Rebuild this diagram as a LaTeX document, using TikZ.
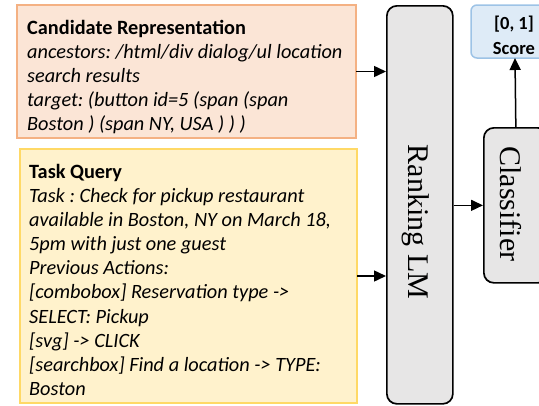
\documentclass[tikz,border=0pt]{standalone}
\usepackage{fontspec}
\setmainfont{Carlito}
\newfontfamily\serifface{Liberation Serif}
\usetikzlibrary{arrows.meta}
\frenchspacing
\definecolor{candfill}{HTML}{FBE5D6}
\definecolor{canddraw}{HTML}{F4B183}
\definecolor{taskfill}{HTML}{FFF2CC}
\definecolor{taskdraw}{HTML}{FFD966}
\definecolor{modelfill}{HTML}{E7E6E6}
\definecolor{scorefill}{HTML}{DEEBF7}
\definecolor{scoredraw}{HTML}{9DC3E6}
\tikzset{
  inbox/.style={anchor=north west, inner sep=0pt, outer sep=0pt},
  bodytext/.style={inner sep=0pt, anchor=north west, align=left,
    font=\fontsize{20.3}{24.1}\selectfont\itshape},
  model/.style={draw=black, line width=1.7pt, fill=modelfill, rounded corners=10pt,
    anchor=north west, inner sep=0pt},
  modeltext/.style={font=\serifface\fontsize{30}{30}\selectfont, rotate=-90, inner sep=0pt},
  arr/.style={line width=1.5pt, -{Triangle[length=12pt,width=11pt]}},
}
\begin{document}
\begin{tikzpicture}[x=1pt,y=-1pt]
\useasboundingbox (0,0) rectangle (539,405);
\clip (0,0) rectangle (539,405);
% input boxes
\node[inbox, draw=canddraw, line width=2pt, fill=candfill,
  minimum width=339pt, minimum height=133pt] (cand) at (17,5) {};
\node[inbox, draw=taskdraw, line width=2pt, fill=taskfill,
  minimum width=337pt, minimum height=254pt] (task) at (20,149) {};
\node[bodytext] (candtext) at (27,20) {%
  {\bfseries\upshape Candidate Representation}\\
  ancestors: /html/div dialog/ul location\\
  search results\\
  target: (button id=5 (span (span\\
  Boston ) (span NY, USA ) ) )};
\node[bodytext] (tasktext) at (29,164) {%
  {\bfseries\upshape Task Query}\\
  Task : Check for pickup restaurant\\
  available in Boston, NY on March 18,\\
  5pm with just one guest\\
  Previous Actions:\\
  {[}combobox] Reservation type ->\\
  SELECT: Pickup\\
  {[}svg] -> CLICK\\
  {[}searchbox] Find a location -> TYPE:\\
  Boston};
% model blocks
\node[model, minimum width=66pt, minimum height=398pt] (rank) at (386,5) {};
\node[modeltext] (ranktext) at (416,222) {Ranking LM};
\node[model, minimum width=64pt, minimum height=155pt] (clf) at (483,127) {};
\node[modeltext] (clftext) at (511,204) {Classifier};
\node[inbox, draw=scoredraw, line width=1.5pt, fill=scorefill, rounded corners=6pt,
  minimum width=88pt, minimum height=53pt] (score) at (471,5) {};
\node[font=\bfseries\fontsize{18.5}{25}\selectfont, align=center, inner sep=0pt]
  (scoretext) at (514,35) {[0, 1]\\Score};
% connectors
\draw[arr] (cand.east) -- (cand.east -| rank.west);
\draw[arr] (task.east) -- (task.east -| rank.west);
\draw[arr] (rank.east |- clf.west) -- (clf.west);
\draw[arr] (clf.north) -- (score.south);
\end{tikzpicture}
\end{document}
